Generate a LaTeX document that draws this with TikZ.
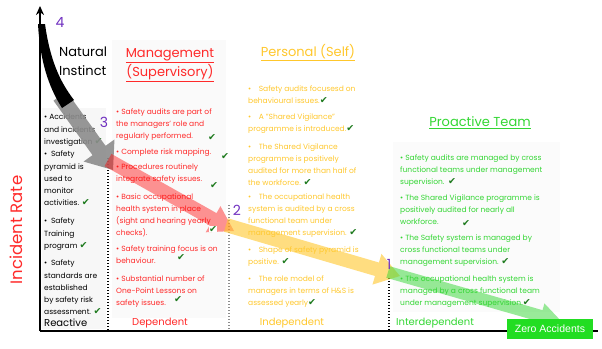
\documentclass[tikz,border=0pt]{standalone}
\usepackage{fontspec}
\setmainfont{Poppins}
\newfontfamily\symf{DejaVu Sans}
\newfontfamily\arialf{Liberation Sans}
\usetikzlibrary{calc,arrows.meta}
\definecolor{mred}{HTML}{FF2A2A}
\definecolor{myel}{HTML}{FFC72C}
\definecolor{mgrn}{HTML}{33D633}
\definecolor{ckg}{HTML}{1E7A1E}
\definecolor{purp}{HTML}{7030C0}
\definecolor{zgrn}{HTML}{22DD22}
\newcommand\ck{{\symf\fontsize{9.5}{9.5}\selectfont\color{ckg}\symbol{"2714}}}
\newcommand\fatarr[6]{%
  \coordinate (fa-P) at ($(#2)!#5!(#1)$);
  \fill[#6] ($(#1)!#3!90:(#2)$) -- ($(fa-P)!#3!90:(#2)$) -- ($(fa-P)!#4!90:(#2)$)
    -- (#2) -- ($(fa-P)!#4!-90:(#2)$) -- ($(fa-P)!#3!-90:(#2)$) -- ($(#1)!#3!-90:(#2)$) -- cycle;}
\begin{document}
\begin{tikzpicture}[x=1pt,y=-1pt,
  body/.style={anchor=north west,inner sep=0pt,align=left,font=\fontsize{7.5}{11.8}\selectfont},
  blk/.style={body,text=black,font=\fontsize{7.5}{12.1}\selectfont},
  rd/.style={body,text=mred},
  yl/.style={body,text=myel},
  gn/.style={body,text=mgrn},
  ckmark/.style={inner sep=0pt,text=ckg},
  numlbl/.style={inner sep=0pt,text=purp,font=\fontsize{14}{14}\selectfont},
  foot/.style={inner sep=0pt,font=\fontsize{10}{10}\selectfont},
  ttl/.style={inner sep=0pt,align=center,font=\fontsize{13}{16}\selectfont},
  dots/.style={line width=1.4pt,dash pattern=on 1.4pt off 1.6pt}]
\useasboundingbox (0,0) rectangle (602,348);
% faint panels
\fill[black!3] (42,108) rectangle (106,329);
\fill[black!2] (112,40) rectangle (226,318);
\fill[black!1.5] (393,142) rectangle (560,312);
% axes
\coordinate (org) at (40,331);
\coordinate (ytop) at (40,6);
\coordinate (xend) at (598,331);
\draw[line width=2.4pt,-{Stealth[length=9pt,width=8pt]}] (org) -- (ytop);
\draw[line width=2.6pt] (org) -- (xend);
% separators
\coordinate (s1a) at (108,158); \coordinate (s1b) at (108,330);
\coordinate (s2a) at (229,205); \coordinate (s2b) at (229,330);
\coordinate (s3a) at (389,278); \coordinate (s3b) at (389,330);
\draw[dots] (s1a) -- (s1b);
\draw[dots,black!45] (s2a) -- (s2b);
\draw[dots] (s3a) -- (s3b);
% labels
\node[text=mred,rotate=90,inner sep=0pt,font=\fontsize{16.5}{16.5}\selectfont] (ir) at (16,230) {Incident Rate};
\node[anchor=west,inner sep=0pt,align=left,font=\fontsize{13}{19}\selectfont] (ni) at (59,61) {Natural\\Instinct};
\node[ttl,text=mred] (mt) at (170,65) {\underline{Management}\\\underline{(Supervisory)}};
\node[ttl,text=myel] (pt) at (308,53) {\underline{Personal (Self)}};
\node[ttl,text=mgrn] (gt) at (480,123) {\underline{Proactive Team}};
% left column
\node[blk] (l1) at (44,114) {\textbullet{} Accidents\\and incidents\\investigation \ck};
\node[blk] (l2) at (44,151) {\textbullet{}\enspace Safety\\pyramid is\\used to\\monitor\\activities. \ck};
\node[blk] (l3) at (44,218) {\textbullet{}\enspace Safety\\Training\\program \ck};
\node[blk] (l4) at (44,260) {\textbullet{}\enspace Safety\\standards are\\established\\by safety risk\\assessment. \ck};
\node[foot,anchor=west] (f1) at (44,323) {Reactive};
% management
\node[rd] (m1) at (116,109) {\textbullet{} Safety audits are part of\\the managers' role and\\regularly performed.};
\node[rd] (m2) at (116,149) {\textbullet{} Complete risk mapping.};
\node[rd] (m3) at (116,164) {\textbullet{} Procedures routinely\\integrate safety issues.};
\node[rd] (m4) at (116,194) {\textbullet{} Basic occupational\\health system in place\\(sight and hearing yearly\\checks).};
\node[rd] (m5) at (116,246) {\textbullet{} Safety training focus is on\\behaviour.};
\node[rd] (m6) at (116,276) {\textbullet{} Substantial number of\\One-Point Lessons on\\safety issues.};
\node[foot,text=mred] (f2) at (160,323) {Dependent};
% personal
\node[yl] (p1) at (248,86) {\textbullet\quad Safety audits focusesd on\\behavioural issues.\ck};
\node[yl] (p2) at (248,114) {\textbullet\quad A "Shared Vigilance"\\programme is introduced.\ck};
\node[yl] (p3) at (248,144) {\textbullet\quad The Shared Vigilance\\programme is positively\\audited for more than half of\\the workforce. \ck};
\node[yl] (p4) at (248,194) {\textbullet\quad The occupational health\\system is audited by a cross\\functional team under\\management supervision. \ck};
\node[yl] (p5) at (248,247) {\textbullet\quad Shape of safety pyramid is\\positive. \ck};
\node[yl] (p6) at (248,276) {\textbullet\quad The role model of\\managers in terms of H\&S is\\assessed yearly\ck};
\node[foot,text=myel] (f3) at (292,323) {Independent};
% proactive
\node[gn] (g1) at (400,155) {\textbullet{} Safety audits are managed by cross\\functional teams under management\\supervision.\enspace\ck};
\node[gn] (g2) at (400,195) {\textbullet{} The Shared Vigilance programme is\\positively audited for nearly all\\workforce.};
\node[gn] (g3) at (400,235) {\textbullet{} The Safety system is managed by\\cross functional teams under\\management supervision. \ck};
\node[gn] (g4) at (400,276) {\textbullet{} The occupational health system is\\managed by a cross functional team\\under management supervision.\ck};
\node[foot,text=mgrn,anchor=west] (f4) at (396,323) {Interdependent};
% detached check marks
\node[ckmark] (c1) at (212,138) {\ck};
\node[ckmark] (c2) at (225,157) {\ck};
\node[ckmark] (c3) at (214,186) {\ck};
\node[ckmark] (c5) at (181,257) {\ck};
\node[ckmark] (c6) at (178,299) {\ck};
\node[ckmark] (c7) at (466,224) {\ck};
% flow arrows
\coordinate (k0) at (60,96); \coordinate (k1) at (113,170);
\coordinate (r0) at (108,160); \coordinate (r1) at (234,231);
\coordinate (y0) at (226,225); \coordinate (y1) at (400,276);
\coordinate (n0) at (388,272); \coordinate (n1) at (562,322);
\fatarr{k0}{k1}{8pt}{19pt}{24pt}{black!45,fill opacity=0.9}
\fill[black] (38,24) .. controls (40,60) and (48,86) .. (62,108) -- (74,100) .. controls (60,82) and (50,60) .. (45,24) -- cycle;
\fatarr{r0}{r1}{7pt}{15pt}{24pt}{red,fill opacity=0.42}
\fatarr{y0}{y1}{7pt}{16pt}{24pt}{myel,fill opacity=0.6}
\fatarr{n0}{n1}{6pt}{13pt}{22pt}{mgrn,fill opacity=0.5}
\node[ckmark,fill=white,inner sep=0.5pt] (c4) at (213,229) {\ck};
% numbers
\node[numlbl] (n4) at (60,22) {4};
\node[numlbl] (n3) at (104,122) {3};
\node[numlbl] (n2) at (237,210) {2};
\node[numlbl] (n1l) at (389,264) {1};
% zero accidents
\node[fill=zgrn,text=white,inner sep=0pt,minimum width=86pt,minimum height=20pt,font=\arialf\fontsize{10.5}{12}\selectfont] (zero) at (550,329) {Zero Accidents};
\end{tikzpicture}
\end{document}
